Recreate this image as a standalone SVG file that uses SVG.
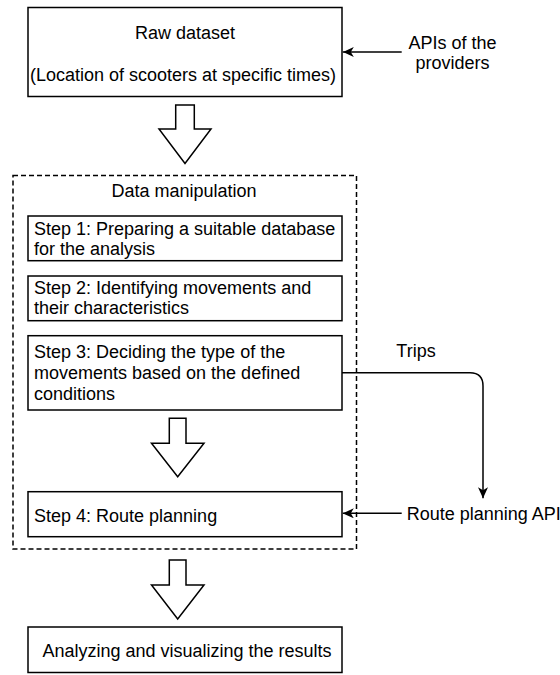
<svg xmlns="http://www.w3.org/2000/svg" width="560" height="675" viewBox="0 0 560 675">
<defs>
<style>
.box{fill:#fff;stroke:#000;stroke-width:1.5}
.group{fill:none;stroke:#000;stroke-width:1.5;stroke-dasharray:5 3}
.hollow{fill:#fff;stroke:#000;stroke-width:1.5;stroke-linejoin:miter}
.conn{fill:none;stroke:#000;stroke-width:1.5}
text{font-family:"Liberation Sans",Arial,Helvetica,sans-serif;font-size:18px;fill:#000}
.mid{text-anchor:middle}
</style>
<marker id="arrow" viewBox="0 0 11 10" refX="11" refY="5" markerWidth="11" markerHeight="10" markerUnits="userSpaceOnUse" orient="auto">
<path d="M0,0 L11,5 L0,10 L3,5 Z" fill="#000"/>
</marker>
</defs>
<rect width="560" height="675" fill="#fff"/>

<g id="raw-dataset">
<rect class="box" x="28" y="7.5" width="314" height="89"/>
<text class="mid" x="185" y="39">Raw dataset</text>
<text class="mid" x="183" y="81">(Location of scooters at specific times)</text>
</g>

<g id="apis-providers">
<text class="mid" x="452.5" y="48.5">APIs of the</text>
<text class="mid" x="452.5" y="69">providers</text>
</g>

<g id="arrow1">
<polygon class="hollow" points="175.7,105 194.3,105 194.3,129 211,129 185,163.5 159,129 175.7,129"/>
</g>

<g id="data-manipulation">
<rect class="group" x="13" y="175.5" width="343.5" height="373.5"/>
<text class="mid" x="184" y="196.7">Data manipulation</text>
</g>

<g id="step1">
<rect class="box" x="28" y="216" width="314" height="44.7"/>
<text x="34" y="235">Step 1: Preparing a suitable database</text>
<text x="34" y="255">for the analysis</text>
</g>

<g id="step2">
<rect class="box" x="28" y="276" width="314" height="44.7"/>
<text x="34" y="294.3">Step 2: Identifying movements and</text>
<text x="34" y="314.3">their characteristics</text>
</g>

<g id="step3">
<rect class="box" x="28" y="335.7" width="314" height="74.3"/>
<text x="34" y="358.3">Step 3: Deciding the type of the</text>
<text x="34" y="379">movements based on the defined</text>
<text x="34" y="399.5">conditions</text>
</g>

<g id="arrow2">
<polygon class="hollow" points="169.3,418.3 186,418.3 186,443.3 204,443.3 177.7,476.7 151.5,443.3 169.3,443.3"/>
</g>

<g id="step4">
<rect class="box" x="28" y="491.7" width="314" height="45"/>
<text x="34" y="521.5">Step 4: Route planning</text>
</g>

<g id="route-planning-api">
<text x="406.7" y="520">Route planning API</text>
</g>

<g id="arrow3">
<polygon class="hollow" points="169.3,560 186,560 186,585 204,585 177.7,619 151.5,585 169.3,585"/>
</g>

<g id="results">
<rect class="box" x="28" y="627" width="314" height="45.5"/>
<text class="mid" x="187" y="656.7">Analyzing and visualizing the results</text>
</g>

<g id="trips-label">
<text class="mid" x="416" y="356.7">Trips</text>
</g>

<g id="connectors">
<path class="conn" d="M401.7,52 H342.8" marker-end="url(#arrow)"/>
<path class="conn" d="M342,372.7 H470 Q483,372.7 483,386 V498.3" marker-end="url(#arrow)"/>
<path class="conn" d="M401.7,513.3 H342.8" marker-end="url(#arrow)"/>
</g>
</svg>
